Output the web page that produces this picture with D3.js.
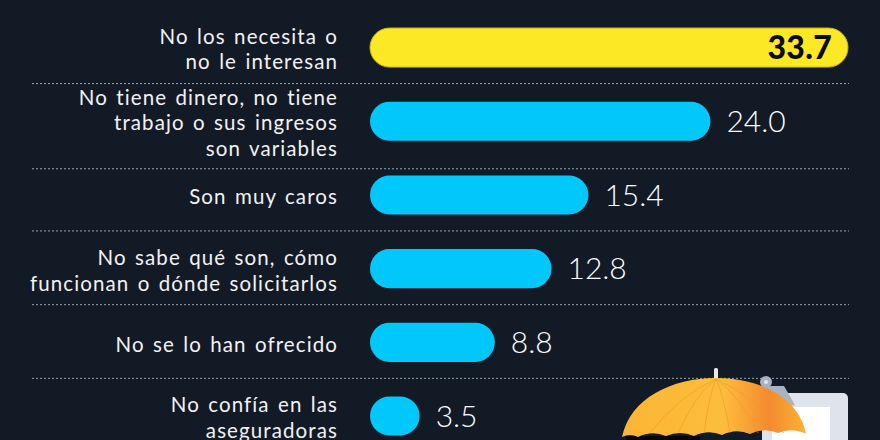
<!DOCTYPE html>
<html>
<head>
<meta charset="utf-8">
<script src="https://cdn.jsdelivr.net/npm/d3@7"></script>
<style>
  html, body { margin: 0; padding: 0; background: #121a26; }
  svg { display: block; }
</style>
</head>
<body>
<svg id="chart"></svg>
<script>
const width = 880;
const height = 440;

// Data
const categories = [
  "No los necesita o no le interesan",
  "No tiene dinero, no tiene trabajo o sus ingresos son variables",
  "Son muy caros",
  "No sabe qué son, cómo funcionan o dónde solicitarlos",
  "No se lo han ofrecido",
  "No confía en las aseguradoras"
];
const labelLines = [
  ["No los necesita o", "no le interesan"],
  ["No tiene dinero, no tiene", "trabajo o sus ingresos", "son variables"],
  ["Son muy caros"],
  ["No sabe qué son, cómo", "funcionan o dónde solicitarlos"],
  ["No se lo han ofrecido"],
  ["No confía en las", "aseguradoras"]
];
const values = [33.7, 24.0, 15.4, 12.8, 8.8, 3.5];
const valueLabels = ["33.7", "24.0", "15.4", "12.8", "8.8", "3.5"];

const rows = categories.map((c, i) => ({ cat: c, lines: labelLines[i], value: values[i], label: valueLabels[i], top: i === 0 }));

const svg = d3.select("#chart")
  .attr("width", width)
  .attr("height", height);

const x = d3.scaleLinear()
  .domain([0, d3.max(values)])
  .range([370, 848]);

const y = d3.scaleBand()
  .domain(categories)
  .range([10.7, 452.9])
  .paddingInner(0.47)
  .paddingOuter(0.235);

const lineH = 25.5;
const labelX = 338;
const mid = d => y(d.cat) + y.bandwidth() / 2;

// --- separators (dotted) ---
const seps = rows.slice(0, -1).map(d => {
  const lastBase = mid(d) + 2 + (d.lines.length - 1) * lineH / 2 + 6;
  return Math.max(mid(d) + 36, lastBase + 14);
});

svg.append("g")
  .selectAll("line")
  .data(seps)
  .join("line")
  .attr("x1", 32)
  .attr("x2", 849)
  .attr("y1", d => d)
  .attr("y2", d => d)
  .attr("stroke", "#9aa2ad")
  .attr("stroke-width", 1)
  .attr("stroke-dasharray", "2,2");

// --- bars ---
svg.append("g")
  .selectAll("rect")
  .data(rows)
  .join("rect")
  .attr("x", x(0))
  .attr("y", d => y(d.cat))
  .attr("width", d => x(d.value) - x(0))
  .attr("height", y.bandwidth())
  .attr("rx", y.bandwidth() / 2)
  .attr("fill", d => d.top ? "#fce824" : "#00c8fa")
  .attr("stroke", d => d.top ? "#c9b40e" : "none")
  .attr("stroke-width", 1);

// --- value labels ---
svg.append("g")
  .selectAll("text")
  .data(rows)
  .join("text")
  .attr("x", d => d.top ? x(d.value) - 16 : x(d.value) + 16)
  .attr("y", d => mid(d))
  .attr("dy", "0.36em")
  .attr("text-anchor", d => d.top ? "end" : "start")
  .attr("font-family", "Lato, sans-serif")
  .attr("font-size", d => d.top ? 32 : 30)
  .attr("font-weight", d => d.top ? 900 : 300)
  .attr("letter-spacing", d => d.top ? 0.3 : 0)
  .attr("fill", d => d.top ? "#0b0b0b" : "#ffffff")
  .text(d => d.label);

// --- category labels ---
const lab = svg.append("g")
  .selectAll("text")
  .data(rows)
  .join("text")
  .attr("text-anchor", "end")
  .attr("font-family", "Lato, sans-serif")
  .attr("font-size", 20.5)
  .attr("font-weight", 400)
  .attr("letter-spacing", 1.1)
  .attr("word-spacing", 2)
  .attr("fill", "#f2f2f2");

lab.selectAll("tspan")
  .data(d => d.lines.map((t, j) => ({ t, j, n: d.lines.length, c: mid(d) + 2 })))
  .join("tspan")
  .attr("x", labelX)
  .attr("y", d => d.c + (d.j - (d.n - 1) / 2) * lineH)
  .attr("dy", "0.35em")
  .text(d => d.t);

// --- illustration: umbrella + clipboard ---
const art = svg.append("g");

const defs = svg.append("defs");
const grad = defs.append("linearGradient").attr("id", "umb").attr("x1", 0).attr("x2", 1);
grad.append("stop").attr("offset", "0%").attr("stop-color", "#fbb534");
grad.append("stop").attr("offset", "55%").attr("stop-color", "#fdbd3c");
grad.append("stop").attr("offset", "80%").attr("stop-color", "#f48a2e");
grad.append("stop").attr("offset", "100%").attr("stop-color", "#fbb236");

// clipboard
art.append("rect")
  .attr("x", 762).attr("y", 393).attr("width", 86).attr("height", 70)
  .attr("rx", 5).attr("fill", "#dfe3ec");
art.append("rect")
  .attr("x", 772).attr("y", 407).attr("width", 58).attr("height", 60)
  .attr("fill", "#ffffff");
art.append("path")
  .attr("d", "M762,386 L784,386 L795,405 L775,410 Z")
  .attr("fill", "#a9b1c2");
art.append("circle")
  .attr("cx", 766).attr("cy", 382).attr("r", 6)
  .attr("fill", "#a9b1c2");
art.append("circle")
  .attr("cx", 766).attr("cy", 382).attr("r", 2)
  .attr("fill", "#dfe3ec");

// shadow under canopy
art.append("path")
  .attr("d", "M626,436 L700,436 L700,440 L626,440 Z")
  .attr("fill", "#05070a");

// tip
art.append("rect")
  .attr("x", 714).attr("y", 368).attr("width", 4).attr("height", 12)
  .attr("rx", 1.5).attr("fill", "#e8e8e8");

// canopy
const canopy = "M622,437 C630,398 672,378 716,378 C760,378 800,398 806,434 " +
  "Q792,427 778,433 Q764,427 750,434 Q736,428 722,435 Q708,429 694,436 " +
  "Q680,430 666,436 Q652,430 638,437 Q630,433 622,437 Z";
art.append("path")
  .attr("d", canopy)
  .attr("fill", "url(#umb)");

// ribs
const ribX = [650, 678, 704, 730, 758, 784];
art.append("g")
  .selectAll("path")
  .data(ribX)
  .join("path")
  .attr("d", d => `M716,379 Q${716 + (d - 716) * 0.55},395 ${d},${433 + (d % 2)}`)
  .attr("fill", "none")
  .attr("stroke", "#e99a2a")
  .attr("stroke-opacity", 0.6)
  .attr("stroke-width", 1);
</script>
</body>
</html>
